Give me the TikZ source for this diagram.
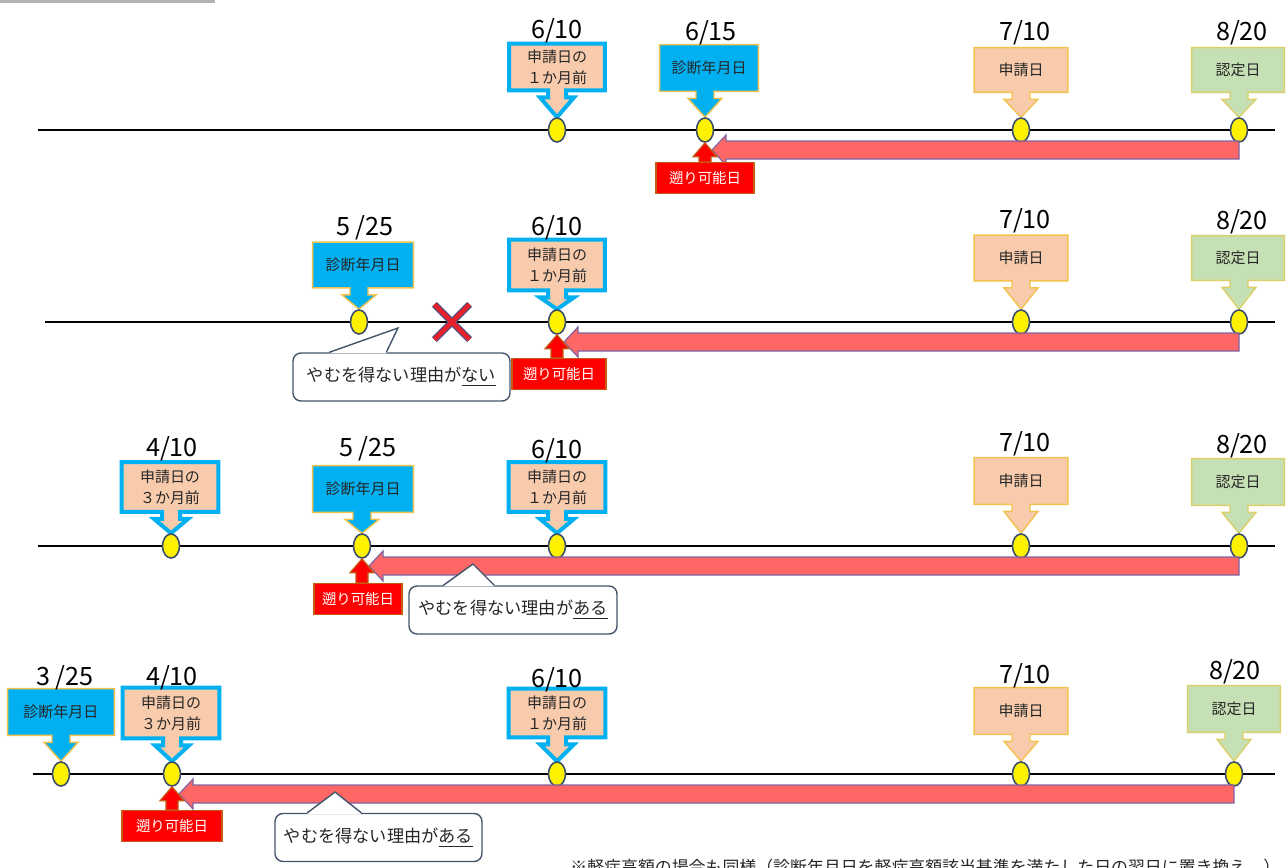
\documentclass[tikz,border=0pt]{standalone}
\usepackage{fontspec}
\setmainfont{Noto Sans CJK JP}
\usepackage{tikz}
\usetikzlibrary{shapes.geometric,shapes.misc,calc,backgrounds}

\definecolor{peach}{HTML}{F8CBAD}
\definecolor{skyb}{HTML}{00B0F0}
\definecolor{leaf}{HTML}{C5E0B4}
\definecolor{gold}{HTML}{F2C14E}
\definecolor{olive}{HTML}{DCCF6A}
\definecolor{slate}{HTML}{3E4E6B}
\definecolor{barred}{HTML}{FF5A5A}
\definecolor{barline}{HTML}{8064A2}
\definecolor{rust}{HTML}{C55A11}
\definecolor{ink}{HTML}{262626}
\definecolor{bubline}{HTML}{44546A}
\definecolor{xred}{HTML}{E8202A}
\definecolor{xblue}{HTML}{4A4F80}

% box with its arrow down onto a dot
\newcommand{\tlbox}[7]{%
  \node[boxtext, minimum width=#5*0.5pt, minimum height=#6*0.5pt] (#1) at #4 {#7};
  \begin{scope}[on background layer]
    \path[#3] (#1.north west) -- (#1.north east) -- (#1.south east)
      -- ($(#2.north |- #1.south)+(9,0)$) -- ($(#2.north |- #1.south)+(9,7)$)
      -- ($(#2.north |- #1.south)+(17,7)$) -- (#2.north)
      -- ($(#2.north |- #1.south)+(-17,7)$) -- ($(#2.north |- #1.south)+(-9,7)$)
      -- ($(#2.north |- #1.south)+(-9,0)$) -- (#1.south west) -- cycle;
  \end{scope}}
% long red arrow back from the decision date
\newcommand{\tlback}[2]{%
  \path[backbar] ($(#1)+(0,11)$) -- ($(#2)+(21,11)$) -- ($(#2)+(21,5)$)
    -- ($(#2)+(7,20)$) -- ($(#2)+(21,35)$) -- ($(#2)+(21,29)$)
    -- ($(#1)+(0,29)$) -- cycle;}
% small red arrow up from the retro box
\newcommand{\tlup}[2]{%
  \path[uparr] (#2.south) -- ($(#2.south)+(12,14)$) -- ($(#2.south)+(6,14)$)
    -- ($(#2.south |- #1.north)+(6,0)$) -- ($(#2.south |- #1.north)+(-6,0)$)
    -- ($(#2.south)+(-6,14)$) -- ($(#2.south)+(-12,14)$) -- cycle;}
% speech bubble
\newcommand{\tlbubble}[7]{%
  \node[bubble, minimum width=#3*0.5pt] (#1) at #2 {#4};
  \fill[white] ($(#1.north west)+(#5,1)$) -- #7 -- ($(#1.north west)+(#6,1)$) -- cycle;
  \draw[bubline, line width=0.7pt] ($(#1.north west)+(#5,0)$) -- #7 -- ($(#1.north west)+(#6,0)$);}

\begin{document}
\begin{tikzpicture}[x=0.5pt, y=-0.5pt]
 	\tikzstyle{every node}+=[inner sep=0pt]
 	\tikzstyle{tldot}=[ellipse, fill=yellow, draw=slate, line width=0.8pt, minimum width=8.5pt, minimum height=12pt]
 	\tikzstyle{boxtext}=[align=center, text=ink, font=\fontsize{7.5}{10.5}\selectfont]
 	\tikzstyle{kbox}=[fill=peach, draw=skyb, line width=2pt]
 	\tikzstyle{sbox}=[fill=peach, draw=gold, line width=0.7pt]
 	\tikzstyle{dbox}=[fill=skyb, draw=gold, line width=0.7pt]
 	\tikzstyle{nbox}=[fill=leaf, draw=olive, line width=0.7pt]
 	\tikzstyle{datelbl}=[font=\fontsize{12.6}{13}\selectfont, text=black]
 	\tikzstyle{retro}=[fill=red, draw=rust, line width=0.6pt, text=white, minimum height=15.5pt, font=\fontsize{7.2}{8}\selectfont]
 	\tikzstyle{uparr}=[fill=red, draw=rust, line width=0.6pt]
 	\tikzstyle{backbar}=[fill=barred, draw=barline, line width=0.6pt, fill opacity=0.92]
 	\tikzstyle{bubble}=[rounded corners=4pt, fill=white, draw=bubline, line width=0.7pt, minimum height=24pt, text=ink, font=\fontsize{8.6}{9}\selectfont]
 	\tikzstyle{tline}=[black, line width=1pt]
 	\tikzstyle{xmark}=[cross out, draw=xblue, double=xred, double distance=2.2pt, line width=0.6pt, minimum size=17pt]
 	\useasboundingbox (0,0) rectangle (1287,868);
 	\draw [gray!60, line width=1.5pt] (0,1.5) -- (215,1.5);
 	% row 1
 	\coordinate (l1a) at (38,130);
 	\coordinate (l1b) at (1275,130);
 	\draw [tline] (l1a) -- (l1b);
 	\node [tldot] (d1a) at (557,130) {};
 	\node [tldot] (d1b) at (705,130) {};
 	\node [tldot] (d1c) at (1021,130) {};
 	\node [tldot] (d1d) at (1239,130) {};
 	\tlbox{b1a}{d1a}{kbox}{(557,67)}{95}{46}{申請日の\\１か月前}
 	\tlbox{b1b}{d1b}{dbox}{(709,68)}{98}{46}{診断年月日}
 	\tlbox{b1c}{d1c}{sbox}{(1021,70)}{93}{44}{申請日}
 	\tlbox{b1d}{d1d}{nbox}{(1238,70)}{92}{44}{認定日}
 	\node [datelbl] (t1a) at (557,31) {6/10};
 	\node [datelbl] (t1b) at (711,33) {6/15};
 	\node [datelbl] (t1c) at (1025,33) {7/10};
 	\node [datelbl] (t1d) at (1242,33) {8/20};
 	\tlback{d1d}{d1b}
 	\node [retro, minimum width=49pt] (r1) at (705,178) {遡り可能日};
 	\tlup{r1}{d1b}
 	% row 2
 	\coordinate (l2a) at (45,322);
 	\coordinate (l2b) at (1275,322);
 	\draw [tline] (l2a) -- (l2b);
 	\node [tldot] (d2a) at (359,322) {};
 	\node [tldot] (d2b) at (557,322) {};
 	\node [tldot] (d2c) at (1021,322) {};
 	\node [tldot] (d2d) at (1239,322) {};
 	\tlbox{b2a}{d2a}{dbox}{(363,265)}{100}{45}{診断年月日}
 	\tlbox{b2b}{d2b}{kbox}{(557,265)}{95}{50}{申請日の\\１か月前}
 	\tlbox{b2c}{d2c}{sbox}{(1021,258)}{93}{45}{申請日}
 	\tlbox{b2d}{d2d}{nbox}{(1238,258)}{92}{44}{認定日}
 	\node [datelbl] (t2a) at (365,228) {5\,/25};
 	\node [datelbl] (t2b) at (557,228) {6/10};
 	\node [datelbl] (t2c) at (1025,221) {7/10};
 	\node [datelbl] (t2d) at (1242,222) {8/20};
 	\node [xmark] (x2) at (452,322) {};
 	\tlback{d2d}{d2b}
 	\node [retro, minimum width=47pt] (r2) at (559,374) {遡り可能日};
 	\tlup{r2}{d2b}
 	\tlbubble{c2}{(401.5,377)}{217}{やむを得ない理由が\underline{ない}}{37}{94}{(398,328)}
 	% row 3
 	\coordinate (l3a) at (38,546);
 	\coordinate (l3b) at (1275,546);
 	\draw [tline] (l3a) -- (l3b);
 	\node [tldot] (d3a) at (171,546) {};
 	\node [tldot] (d3b) at (362,546) {};
 	\node [tldot] (d3c) at (557,546) {};
 	\node [tldot] (d3d) at (1021,546) {};
 	\node [tldot] (d3e) at (1239,546) {};
 	\tlbox{b3a}{d3a}{kbox}{(170,487)}{96}{49}{申請日の\\３か月前}
 	\tlbox{b3b}{d3b}{dbox}{(363,489)}{100}{46}{診断年月日}
 	\tlbox{b3c}{d3c}{kbox}{(557,487)}{96}{49}{申請日の\\１か月前}
 	\tlbox{b3d}{d3d}{sbox}{(1021,481)}{93}{46}{申請日}
 	\tlbox{b3e}{d3e}{nbox}{(1238,482)}{92}{46}{認定日}
 	\node [datelbl] (t3a) at (172,449) {4/10};
 	\node [datelbl] (t3b) at (368,449) {5\,/25};
 	\node [datelbl] (t3c) at (557,451) {6/10};
 	\node [datelbl] (t3d) at (1025,444) {7/10};
 	\node [datelbl] (t3e) at (1242,446) {8/20};
 	\tlback{d3e}{d3b}
 	\node [retro, minimum width=44pt] (r3) at (358,599) {遡り可能日};
 	\tlup{r3}{d3b}
 	\tlbubble{c3}{(513,610)}{208}{やむを得ない理由が\underline{ある}}{35}{86}{(473,564)}
 	% row 4
 	\coordinate (l4a) at (33,774);
 	\coordinate (l4b) at (1275,774);
 	\draw [tline] (l4a) -- (l4b);
 	\node [tldot] (d4a) at (61,774) {};
 	\node [tldot] (d4b) at (172,774) {};
 	\node [tldot] (d4c) at (557,774) {};
 	\node [tldot] (d4d) at (1021,774) {};
 	\node [tldot] (d4e) at (1234,774) {};
 	\tlbox{b4a}{d4a}{dbox}{(61,712)}{106}{46}{診断年月日}
 	\tlbox{b4b}{d4b}{kbox}{(171,713)}{96}{50}{申請日の\\３か月前}
 	\tlbox{b4c}{d4c}{kbox}{(557,713)}{96}{48}{申請日の\\１か月前}
 	\tlbox{b4d}{d4d}{sbox}{(1021,711)}{93}{46}{申請日}
 	\tlbox{b4e}{d4e}{nbox}{(1234,709)}{92}{46}{認定日}
 	\node [datelbl] (t4a) at (65,678) {3\,/25};
 	\node [datelbl] (t4b) at (172,678) {4/10};
 	\node [datelbl] (t4c) at (557,680) {6/10};
 	\node [datelbl] (t4d) at (1025,676) {7/10};
 	\node [datelbl] (t4e) at (1235,672) {8/20};
 	\tlback{d4e}{d4b}
 	\node [retro, minimum width=50pt] (r4) at (172,826) {遡り可能日};
 	\tlup{r4}{d4b}
 	\tlbubble{c4}{(378.5,837.5)}{207}{やむを得ない理由が\underline{ある}}{33}{87}{(335,792)}
 	\node [anchor=west, text=ink, font=\fontsize{8.45}{9}\selectfont] (fn) at (570,867) {※軽症高額の場合も同様（診断年月日を軽症高額該当基準を満たした日の翌日に置き換え。）};
\end{tikzpicture}
\end{document}
